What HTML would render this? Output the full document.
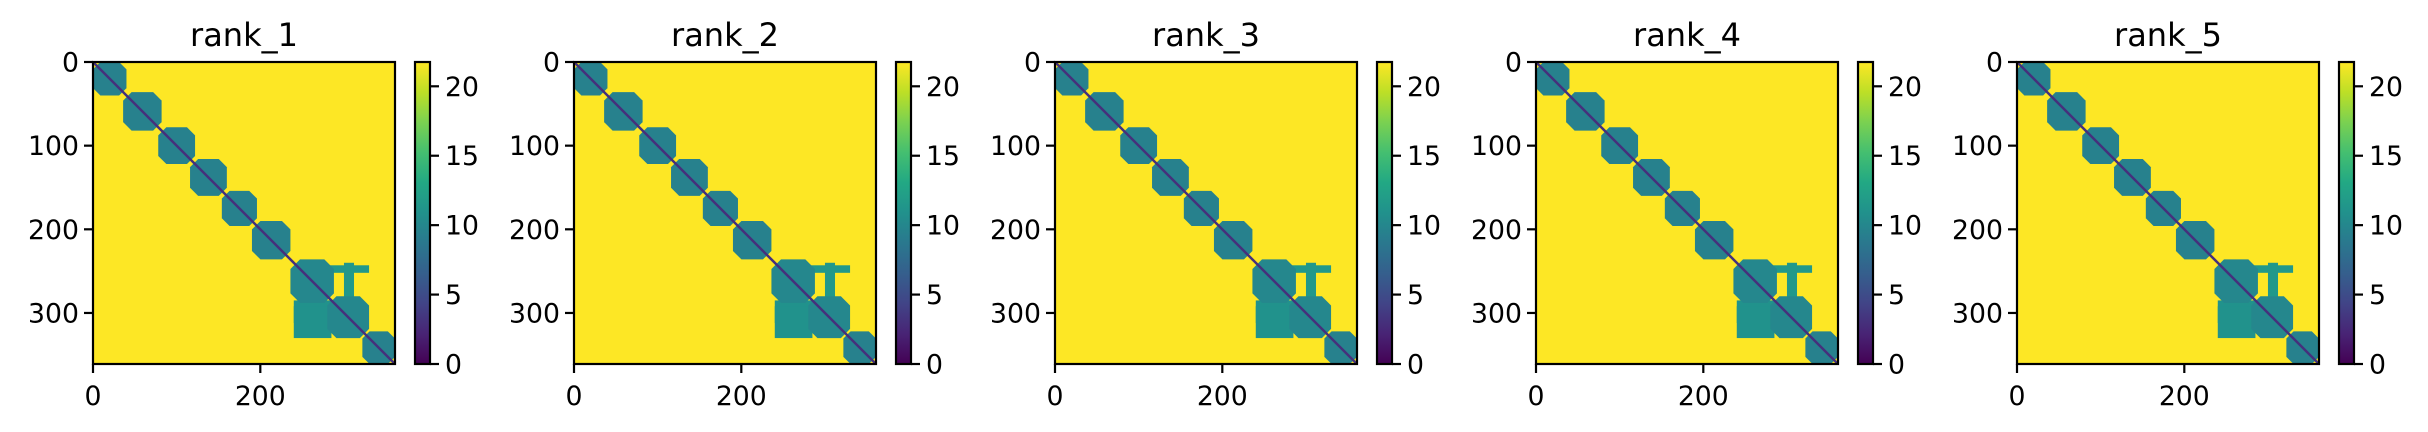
<!DOCTYPE html>
<html><head><meta charset="utf-8"><style>
html,body{margin:0;padding:0;background:#fff;width:2428px;height:432px;overflow:hidden}
svg{display:block}
text{font-family:"DejaVu Sans","Liberation Sans",sans-serif;fill:#000}
</style></head><body>
<svg id="fig" width="2428" height="432" xmlns="http://www.w3.org/2000/svg">
<defs>
<linearGradient id="viridis" x1="0" y1="1" x2="0" y2="0">
<stop offset="0" stop-color="#440154"/><stop offset="0.1" stop-color="#482475"/><stop offset="0.2" stop-color="#414487"/><stop offset="0.3" stop-color="#355f8d"/><stop offset="0.4" stop-color="#2a788e"/><stop offset="0.5" stop-color="#21918c"/><stop offset="0.6" stop-color="#22a884"/><stop offset="0.7" stop-color="#44bf70"/><stop offset="0.8" stop-color="#7ad151"/><stop offset="0.9" stop-color="#bddf26"/><stop offset="1" stop-color="#fde725"/>
</linearGradient>
</defs>
</svg>
<script>
const panelTitles = ["rank_1","rank_2","rank_3","rank_4","rank_5"];
const nRes = 361;
const vmax = 21.75;
const axisTicks = [0,100,200,300];
const xTicks = [0,200];
const cbTicks = [0,5,10,15,20];
// domain blocks along diagonal (residue ranges) and their PAE value
const domainStart = [0, 36, 78, 116, 154, 190, 236, 280, 322];
const domainEnd   = [40, 82, 122, 160, 196, 236, 288, 330, 361];
const domainValue = [9.5, 9.5, 9.5, 9.5, 9.5, 9.5, 10, 10, 9.5];
// off-diagonal patches: x range, y range, value
const patchX0 = [240, 255, 240, 205, 160, 300];
const patchX1 = [290, 330, 285, 208, 170, 312];
const patchY0 = [285, 243, 292, 203, 175, 240];
const patchY1 = [312, 252, 330, 212, 178, 290];
const patchVal = [11, 11.5, 11, 11.5, 11.5, 11.5];
const diagValue = 3;

const stops=[[0,[68,1,84]],[.1,[72,36,117]],[.2,[65,68,135]],[.3,[53,95,141]],[.4,[42,120,142]],[.5,[33,145,140]],[.6,[34,168,132]],[.7,[68,191,112]],[.8,[122,209,81]],[.9,[189,223,38]],[1,[253,231,37]]];
function viridis(v){let t=Math.max(0,Math.min(1,v/vmax));for(let i=1;i<stops.length;i++){if(t<=stops[i][0]){const a=stops[i-1],b=stops[i];const f=(t-a[0])/(b[0]-a[0]);return 'rgb('+a[1].map((c,k)=>Math.round(c+(b[1][k]-c)*f)).join(',')+')';}}return 'rgb(253,231,37)';}

const NS="http://www.w3.org/2000/svg";
const svg=document.getElementById('fig');
function mk(tag,attrs,parent){const e=document.createElementNS(NS,tag);for(const k in attrs)e.setAttribute(k,attrs[k]);(parent||svg).appendChild(e);return e;}

const axLeft0=93, axTop=62, axSize=302, step=481, cbOff=322, cbW=15;
panelTitles.forEach((title,p)=>{
  const L=axLeft0+p*step;
  const sx=v=>L+v/nRes*axSize;
  const sy=v=>axTop+v/nRes*axSize;
  const g=mk('g',{});
  
  
  const bg=mk('rect',{x:L,y:axTop,width:axSize,height:axSize,fill:viridis(vmax)},g);
  
  
  patchX0.forEach((x0,i)=>{
    const r=mk('rect',{x:sx(x0),y:sy(patchY0[i]),width:sx(patchX1[i])-sx(x0),height:sy(patchY1[i])-sy(patchY0[i]),fill:viridis(patchVal[i])},g);
    
    
  });
  domainStart.forEach((s,i)=>{
    const e=domainEnd[i];const c=(e-s)*0.22;
    const pts=[[s+c,s],[e-c,s],[e,s+c],[e,e-c],[e-c,e],[s+c,e],[s,e-c],[s,s+c]].map(q=>sx(Math.max(0,Math.min(nRes,q[0])))+','+sy(Math.max(0,Math.min(nRes,q[1])))).join(' ');
    const poly=mk('polygon',{points:pts,fill:viridis(domainValue[i])},g);
    
    
  });
  const dl=mk('line',{x1:sx(0),y1:sy(0),x2:sx(nRes),y2:sy(nRes),stroke:viridis(diagValue),'stroke-width':2.5},g);
  
  
  const fr=mk('rect',{x:L,y:axTop,width:axSize,height:axSize,fill:'none',stroke:'#000','stroke-width':2.2},g);
  
  
  axisTicks.forEach(t=>{
    mk('line',{x1:L,x2:L-9,y1:sy(t),y2:sy(t),stroke:'#000','stroke-width':2.2},g);
    const tx=mk('text',{x:L-14,y:sy(t)+9.5,'text-anchor':'end','font-size':26.7},g);
    tx.textContent=t;
    
    
  });
  xTicks.forEach(t=>{
    mk('line',{x1:sx(t),x2:sx(t),y1:axTop+axSize,y2:axTop+axSize+9,stroke:'#000','stroke-width':2.2},g);
    const tx=mk('text',{x:sx(t),y:405,'text-anchor':'middle','font-size':26.7},g);
    tx.textContent=t;
    
    
  });
  const tt=mk('text',{x:L+axSize/2,y:46,'text-anchor':'middle','font-size':32},g);
  tt.textContent=title;
  
  
  const cx=L+cbOff;
  const cby=v=>axTop+axSize-v/vmax*axSize;
  const cb=mk('rect',{x:cx,y:axTop,width:cbW,height:axSize,fill:'url(#viridis)',stroke:'#000','stroke-width':2.2},g);
  
  
  cbTicks.forEach(t=>{
    mk('line',{x1:cx+cbW,x2:cx+cbW+9,y1:cby(t),y2:cby(t),stroke:'#000','stroke-width':2.2},g);
    const tx=mk('text',{x:cx+cbW+15,y:cby(t)+9.5,'font-size':26.7},g);
    tx.textContent=t;
    
    
  });
});
</script>
</body></html>
